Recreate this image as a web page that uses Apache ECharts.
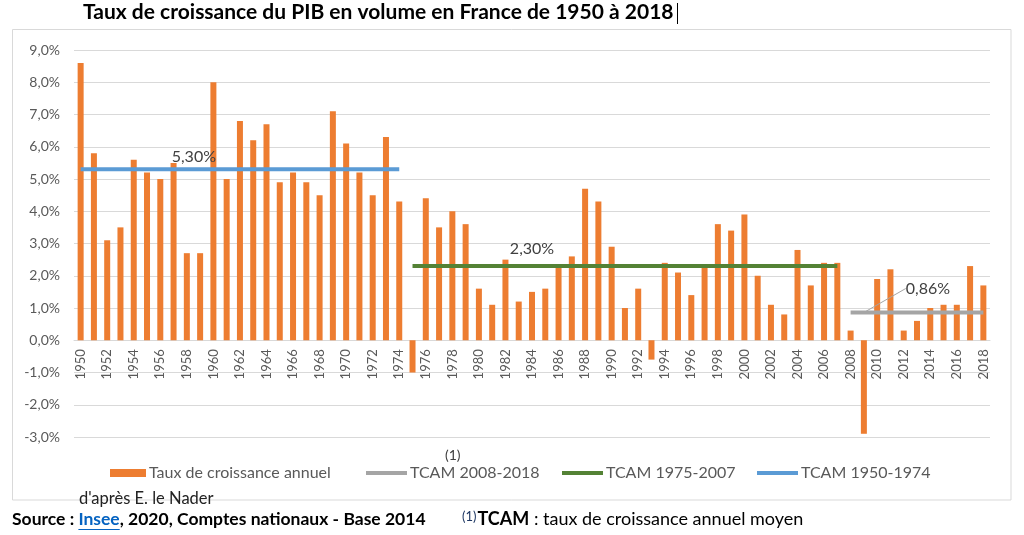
<!DOCTYPE html>
<html>
<head>
<meta charset="utf-8">
<script src="https://cdn.jsdelivr.net/npm/echarts@6/dist/echarts.min.js"></script>
<style>
html,body{margin:0;padding:0;background:#fff;}
#chart{width:1024px;height:535px;}
</style>
</head>
<body>
<div id="chart"></div>
<script>
const years = ['1950','1951','1952','1953','1954','1955','1956','1957','1958','1959',
  '1960','1961','1962','1963','1964','1965','1966','1967','1968','1969',
  '1970','1971','1972','1973','1974','1975','1976','1977','1978','1979',
  '1980','1981','1982','1983','1984','1985','1986','1987','1988','1989',
  '1990','1991','1992','1993','1994','1995','1996','1997','1998','1999',
  '2000','2001','2002','2003','2004','2005','2006','2007','2008','2009',
  '2010','2011','2012','2013','2014','2015','2016','2017','2018'];
const growth = [8.6,5.8,3.1,3.5,5.6,5.2,5.0,5.5,2.7,2.7,
  8.0,5.0,6.8,6.2,6.7,4.9,5.2,4.9,4.5,7.1,
  6.1,5.2,4.5,6.3,4.3,-1.0,4.4,3.5,4.0,3.6,
  1.6,1.1,2.5,1.2,1.5,1.6,2.3,2.6,4.7,4.3,
  2.9,1.0,1.6,-0.6,2.4,2.1,1.4,2.3,3.6,3.4,
  3.9,2.0,1.1,0.8,2.8,1.7,2.4,2.4,0.3,-2.9,
  1.9,2.2,0.3,0.6,1.0,1.1,1.1,2.3,1.7];
// TCAM periods
const tcamBlue = {name:'TCAM 1950-1974', start:1950, end:1974, value:5.30, labelYear:1958};
const tcamGreen = {name:'TCAM 1975-2007', start:1975, end:2007, value:2.30, labelYear:1984};
const tcamGrey = {name:'TCAM 2008-2018', start:2008, end:2018, value:0.86, labelYear:2009};
const yTicks = {min:-3, max:9, interval:1};

const FONT = 'Lato';
const fmtPct = (v, d) => v.toFixed(d).replace('.', ',') + '%';

function tcamData(t, labelOpts) {
  return years.map(y => {
    const yr = +y;
    if (yr < t.start || yr > t.end) return '-';
    if (yr === t.labelYear) return {value: t.value, label: Object.assign({show: true, formatter: fmtPct(t.value, 2)}, labelOpts)};
    return t.value;
  });
}
const lblBase = {color:'#404040', fontSize:16, fontFamily:FONT};

const GRID = {left:74, right:34, top:50, bottom:98};
const plotH = 535 - GRID.top - GRID.bottom;
// x axis sits on the zero line of the value axis
const zeroOffset = -plotH * (0 - yTicks.min) / (yTicks.max - yTicks.min);

const chart = echarts.init(document.getElementById('chart'), null, {renderer:'canvas'});
const lineIcon = 'path://M0,0 L41,0 L41,4 L0,4 Z';
function legendAt(left, name, icon, w, h) {
  return {
    left: left, top: 465, padding: 0, itemWidth: w, itemHeight: h, itemGap: 0,
    icon: icon, data: [name], selectedMode: false,
    textStyle: {color:'#595959', fontSize:16, fontFamily:FONT, padding:[0,0,0,-2]}
  };
}
chart.setOption({
  backgroundColor: '#fff',
  animation: false,
  title: {
    text: 'Taux de croissance du PIB en volume en France de 1950 à 2018',
    left: 83, top: 2, padding: 0,
    textStyle: {color:'#000', fontSize:21, fontWeight:'bold', fontFamily:FONT}
  },
  grid: Object.assign({containLabel:false}, GRID),
  legend: [
    legendAt(110, 'Taux de croissance annuel', 'rect', 36, 8),
    legendAt(366, tcamGrey.name, lineIcon, 41, 8),
    legendAt(562, tcamGreen.name, lineIcon, 41, 8),
    legendAt(757, tcamBlue.name, lineIcon, 41, 8)
  ],
  xAxis: {
    type: 'category', data: years, position: 'bottom', offset: zeroOffset,
    axisLine: {show:true, onZero:false, lineStyle:{color:'#d9d9d9', width:1}},
    axisTick: {show:false},
    axisLabel: {rotate:90, interval:1, color:'#595959', fontSize:13, fontFamily:FONT, margin:9}
  },
  yAxis: {
    type: 'value', min: yTicks.min, max: yTicks.max, interval: yTicks.interval,
    axisLine: {show:false}, axisTick: {show:false},
    splitLine: {lineStyle:{color:'#d9d9d9', width:1}},
    axisLabel: {formatter: v => fmtPct(v, 1), color:'#595959', fontSize:14, fontFamily:FONT, margin:14}
  },
  series: [
    {name:'Taux de croissance annuel', type:'bar', data: growth, barWidth: 6,
     itemStyle:{color:'#ED7D31'}, z: 2},
    {name: tcamGrey.name, type:'line', data: tcamData(tcamGrey, {position:'inside'}),
     symbol:'circle', symbolSize:0, showSymbol:true,
     lineStyle:{color:'#A5A5A5', width:4}, itemStyle:{color:'#A5A5A5'}, z: 3,
     label: Object.assign({}, lblBase),
     labelLayout: {dx: 64, dy: -24},
     labelLine: {show: true, lineStyle:{color:'#A5A5A5', width:1}}},
    {name: tcamGreen.name, type:'line', data: tcamData(tcamGreen, {position:'top', distance:9}),
     symbol:'circle', symbolSize:0, showSymbol:true,
     lineStyle:{color:'#548235', width:4}, itemStyle:{color:'#548235'}, z: 3,
     label: Object.assign({}, lblBase)},
    {name: tcamBlue.name, type:'line', data: tcamData(tcamBlue, {position:'top', distance:4, offset:[7,0]}),
     symbol:'circle', symbolSize:0, showSymbol:true,
     lineStyle:{color:'#5B9BD5', width:4}, itemStyle:{color:'#5B9BD5'}, z: 3,
     label: Object.assign({}, lblBase)}
  ],
  graphic: [
    {type:'rect', shape:{x:12.5, y:29.5, width:998.5, height:470.5}, style:{fill:'none', stroke:'#d9d9d9', lineWidth:1}, z:-1, silent:true},
    {type:'line', shape:{x1:677.5, y1:3, x2:677.5, y2:24}, style:{stroke:'#000', lineWidth:1}},
    {type:'text', left:445, top:448, style:{text:'(1)', fill:'#404040', font:'14px ' + FONT}},
    {type:'text', left:79, top:490, style:{text:"d'après E. le Nader", fill:'#222', font:'16.5px ' + FONT}},
    {type:'text', left:12, top:510, style:{
      text:'{b|Source : }{l|Insee}{b|, 2020, Comptes nationaux - Base 2014}',
      rich:{b:{fill:'#000', font:'bold 17.5px ' + FONT}, l:{fill:'#0563C1', font:'bold 17.5px ' + FONT}}
    }},
    {type:'text', left:462, top:510, style:{
      text:'{s|(1)}{b|TCAM}{r| : taux de croissance annuel moyen}',
      rich:{s:{fill:'#1f3864', font:'13px ' + FONT, verticalAlign:'top', padding:[0,1,6,0]},
            b:{fill:'#000', font:'bold 18px ' + FONT}, r:{fill:'#000', font:'18px ' + FONT}}
    }}
  ]
});
// underline for the "Insee" link, placed from measured text widths
(function(){
  const ctx = document.createElement('canvas').getContext('2d');
  ctx.font = 'bold 17.5px ' + FONT;
  const x0 = 12 + ctx.measureText('Source : ').width;
  const w = ctx.measureText('Insee').width;
  chart.setOption({graphic: [{id:'ul', type:'line', shape:{x1:x0, y1:529.5, x2:x0 + w, y2:529.5}, style:{stroke:'#0563C1', lineWidth:1}}]});
})();
</script>
</body>
</html>
